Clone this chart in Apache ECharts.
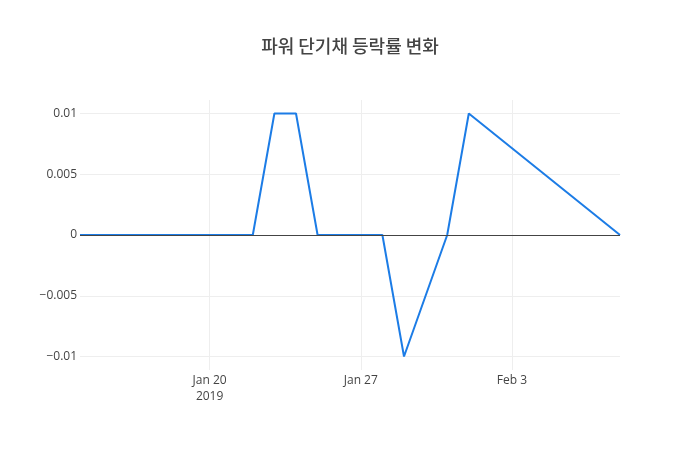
<!DOCTYPE html>
<html>
<head>
<meta charset="utf-8">
<script src="https://cdn.jsdelivr.net/npm/echarts@6/dist/echarts.min.js"></script>
<style>html,body{margin:0;padding:0;background:#fff;}#c{width:700px;height:450px;}</style>
</head>
<body>
<div id="c"></div>
<script>
const titleText = '파워 단기채 등락률 변화';
const dates = ['2019-01-14','2019-01-15','2019-01-16','2019-01-17','2019-01-18','2019-01-21','2019-01-22','2019-01-23','2019-01-24','2019-01-25','2019-01-28','2019-01-29','2019-01-31','2019-02-01','2019-02-08'];
const values = [0,0,0,0,0,0,0,0.01,0.01,0,0,-0.01,0,0.01,0];
const xTickDates = ['2019-01-20','2019-01-27','2019-02-03'];
const xTickLabels = ['Jan 20\n2019','Jan 27','Feb 3'];
const yTicks = [-0.01,-0.005,0,0.005,0.01];
const yTickLabels = ['\u22120.01','\u22120.005','0','0.005','0.01'];
const xMin = '2019-01-14', xMax = '2019-02-08';
const yMin = -0.01111, yMax = 0.01111;

function ts(s){ const p = s.split('-').map(Number); return Date.UTC(p[0], p[1]-1, p[2]); }
const xTickTs = xTickDates.map(ts);

const chart = echarts.init(document.getElementById('c'), null, {renderer:'canvas'});
const font = "'Open Sans', 'Noto Sans CJK KR', sans-serif";
chart.setOption({
  animation: false,
  backgroundColor: '#fff',
  title: {
    text: titleText, left: 'center', top: 32,
    textStyle: {fontFamily: "'Noto Sans CJK KR', 'Open Sans', sans-serif", fontSize: 18, fontWeight: 500, color: '#444'}
  },
  grid: {left: 80, right: 80, top: 100, bottom: 80, containLabel: false},
  xAxis: {
    type: 'value', min: ts(xMin), max: ts(xMax),
    axisLine: {show: false}, axisTick: {show: false, customValues: xTickTs},
    axisLabel: {
      customValues: xTickTs, margin: 3, color: '#444', fontFamily: font, fontSize: 12, lineHeight: 16,
      formatter: function(v){ const i = xTickTs.indexOf(v); return i >= 0 ? xTickLabels[i] : ''; }
    },
    splitLine: {show: true, lineStyle: {color: '#eee', width: 1}}
  },
  yAxis: {
    type: 'value', min: yMin, max: yMax,
    axisLine: {show: false}, axisTick: {show: false, customValues: yTicks},
    axisLabel: {
      customValues: yTicks, margin: 3, color: '#444', fontFamily: font, fontSize: 12,
      formatter: function(v){ const i = yTicks.findIndex(t => Math.abs(t - v) < 1e-9); return i >= 0 ? yTickLabels[i] : ''; }
    },
    splitLine: {show: true, lineStyle: {color: '#eee', width: 1}}
  },
  series: [
    {
      type: 'line', data: [], z: 1, silent: true,
      markLine: {silent: true, symbol: 'none', label: {show: false},
        lineStyle: {color: '#444', width: 1, type: 'solid'}, data: [{yAxis: 0}]}
    },
    {
      type: 'line', z: 3, showSymbol: false, symbol: 'none',
      data: dates.map((d, i) => [ts(d), values[i]]),
      lineStyle: {color: '#1c7ce6', width: 2}, itemStyle: {color: '#1c7ce6'}
    }
  ]
});
</script>
</body>
</html>
